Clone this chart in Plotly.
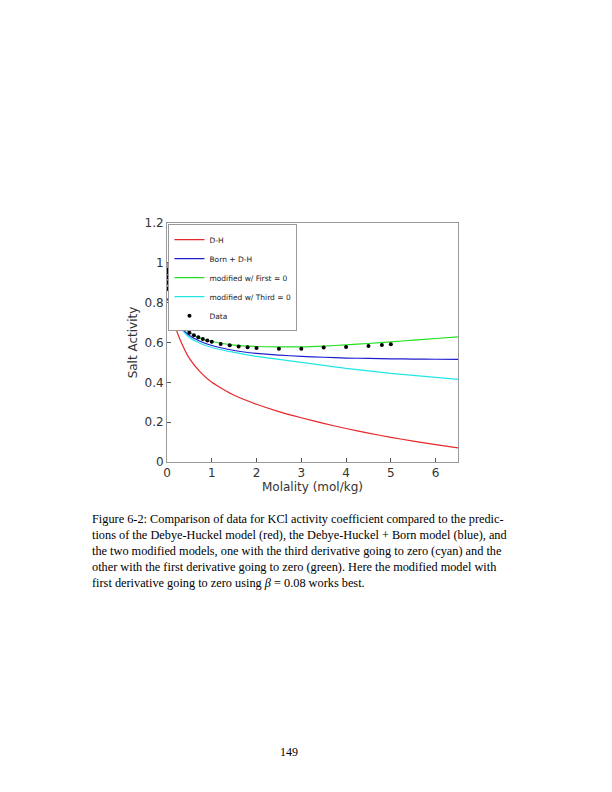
import plotly.graph_objects as go

x_dh = [0, 0.01, 0.05, 0.1, 0.2, 0.3, 0.5, 0.75, 1, 1.5, 2, 2.5, 3, 3.5, 4, 4.5, 5, 5.5, 6, 6.5]
y_dh = [1, 0.93, 0.83, 0.76, 0.67, 0.61, 0.52, 0.45, 0.40, 0.335, 0.29, 0.253, 0.222, 0.194, 0.168, 0.145, 0.124, 0.105, 0.087, 0.071]
x_m = [0, 0.01, 0.05, 0.1, 0.2, 0.3, 0.5, 0.75, 1, 1.5, 2, 2.5, 3, 3.5, 4, 4.5, 5, 5.5, 6, 6.5]
y_born = [1, 0.93, 0.84, 0.78, 0.72, 0.68, 0.635, 0.605, 0.585, 0.56, 0.545, 0.537, 0.53, 0.526, 0.522, 0.52, 0.518, 0.517, 0.516, 0.515]
y_first = [1, 0.93, 0.84, 0.785, 0.725, 0.69, 0.65, 0.62, 0.605, 0.587, 0.58, 0.578, 0.578, 0.582, 0.588, 0.595, 0.603, 0.612, 0.62, 0.628]
y_third = [1, 0.93, 0.84, 0.775, 0.715, 0.675, 0.625, 0.595, 0.575, 0.55, 0.53, 0.515, 0.50, 0.485, 0.47, 0.458, 0.445, 0.435, 0.425, 0.415]
x_data = [0.001, 0.002, 0.005, 0.01, 0.02, 0.05, 0.1, 0.2, 0.3, 0.4, 0.5, 0.6, 0.7, 0.8, 0.9, 1.0, 1.2, 1.4, 1.6, 1.8, 2.0, 2.5, 3.0, 3.5, 4.0, 4.5, 4.8, 5.0]
y_data = [0.965, 0.952, 0.927, 0.901, 0.869, 0.816, 0.770, 0.718, 0.688, 0.666, 0.649, 0.637, 0.626, 0.618, 0.610, 0.604, 0.593, 0.586, 0.580, 0.576, 0.573, 0.569, 0.569, 0.575, 0.577, 0.583, 0.588, 0.591]

fig = go.Figure()
fig.add_trace(go.Scatter(x=x_dh, y=y_dh, mode="lines", name="D-H", line=dict(color="#e8282b", width=1.2, shape="spline", smoothing=0.6)))
fig.add_trace(go.Scatter(x=x_m, y=y_born, mode="lines", name="Born + D-H", line=dict(color="#1f1fd0", width=1.2, shape="spline", smoothing=0.6)))
fig.add_trace(go.Scatter(x=x_m, y=y_first, mode="lines", name="modified w/ First = 0", line=dict(color="#22e022", width=1.2, shape="spline", smoothing=0.6)))
fig.add_trace(go.Scatter(x=x_m, y=y_third, mode="lines", name="modified w/ Third = 0", line=dict(color="#22e6e6", width=1.2, shape="spline", smoothing=0.6)))
fig.add_trace(go.Scatter(x=x_data, y=y_data, mode="markers", name="Data", marker=dict(color="black", size=4)))

ax = dict(showline=True, mirror=True, linecolor="#999", linewidth=1, ticks="inside", ticklen=4,
          tickcolor="#555", showgrid=False, zeroline=False, tickfont=dict(family="DejaVu Sans", size=12, color="#333"))
fig.update_xaxes(range=[0, 6.5], tickvals=[0, 1, 2, 3, 4, 5, 6],
                 title=dict(text="Molality (mol/kg)", font=dict(family="DejaVu Sans", size=12, color="#333"), standoff=2), **ax)
fig.update_yaxes(range=[0, 1.2], tickvals=[0, 0.2, 0.4, 0.6, 0.8, 1, 1.2], ticktext=["0", "0.2", "0.4", "0.6", "0.8", "1", "1.2"],
                 title=dict(text="Salt Activity", font=dict(family="DejaVu Sans", size=12, color="#333"), standoff=4), **ax)

caption = ("Figure 6-2: Comparison of data for KCl activity coefficient compared to the predic-<br>"
           "tions of the Debye-Huckel model (red), the Debye-Huckel + Born model (blue), and<br>"
           "the two modified models, one with the third derivative going to zero (cyan) and the<br>"
           "other with the first derivative going to zero (green). Here the modified model with<br>"
           "first derivative going to zero using <i>β</i> = 0.08 works best.")
fig.add_annotation(text=caption, xref="paper", yref="paper", x=-0.265, y=-0.2, xanchor="left", yanchor="top",
                   showarrow=False, align="left", font=dict(family="Liberation Serif", size=12.3, color="black"))
fig.add_annotation(text="149", xref="paper", yref="paper", x=0.42, y=-1.175, xanchor="center", yanchor="top",
                   showarrow=False, font=dict(family="Liberation Serif", size=12, color="black"))

fig.update_layout(width=612, height=792, margin=dict(l=159, r=162, t=215, b=338),
                  paper_bgcolor="white", plot_bgcolor="white", showlegend=True,
                  legend=dict(x=0.005, y=0.995, xanchor="left", yanchor="top", bgcolor="white",
                              bordercolor="#999", borderwidth=1, tracegroupgap=0, itemwidth=30,
                              font=dict(family="DejaVu Sans", size=7.5, color="#222")))
fig.write_html("out.html")
